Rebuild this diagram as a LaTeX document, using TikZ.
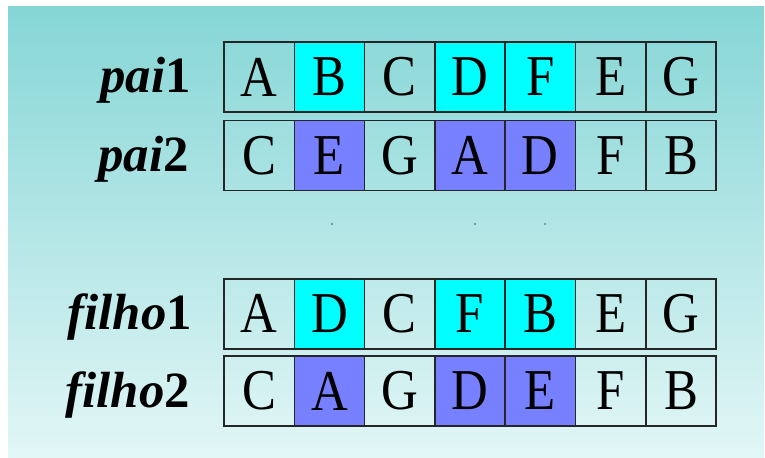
\documentclass[tikz,border=0pt]{standalone}
\usepackage{fontspec}
\setmainfont{Liberation Serif}
\newfontfamily\cellfont[FakeStretch=0.88]{Liberation Serif}
\definecolor{bgtop}{RGB}{134,214,214}
\definecolor{bgbottom}{RGB}{226,246,246}
\definecolor{cutcyan}{RGB}{0,255,255}
\definecolor{cutblue}{RGB}{119,128,255}
\begin{document}
\begin{tikzpicture}[x=1bp,y=-1bp,
    cell/.style={draw=black!85,line width=1.6bp,minimum width=70.3bp,
      minimum height=70bp,inner sep=0pt,outer sep=0pt,
      font=\cellfont\fontsize{58}{58}\selectfont},
    cyancell/.style={cell,fill=cutcyan},
    bluecell/.style={cell,fill=cutblue},
    rowname/.style={anchor=base east,inner sep=0pt,
      font=\fontsize{51}{51}\selectfont\bfseries}]
  \useasboundingbox (0,0) rectangle (765,458);
  \shade[top color=bgtop,bottom color=bgbottom] (8,7) rectangle (764,457);

  % parents
  \node[rowname] (pai1) at (191,93) {\textit{pai}1};
  \node[rowname] (pai2) at (189,171.5) {\textit{pai}2};
  \draw
    (259.15,77) node[cell] (p1a){A}
    (329.45,77) node[cyancell] (p1b){B}
    (399.75,77) node[cell] (p1c){C}
    (470.05,77) node[cyancell] (p1d){D}
    (540.35,77) node[cyancell] (p1e){F}
    (610.65,77) node[cell] (p1f){E}
    (680.95,77) node[cell] (p1g){G};
  \draw
    (259.15,155.5) node[cell] (p2a){C}
    (329.45,155.5) node[bluecell] (p2b){E}
    (399.75,155.5) node[cell] (p2c){G}
    (470.05,155.5) node[bluecell] (p2d){A}
    (540.35,155.5) node[bluecell] (p2e){D}
    (610.65,155.5) node[cell] (p2f){F}
    (680.95,155.5) node[cell] (p2g){B};

  % cut marks
  \fill[black!60] (332,224) circle (1bp) (475,224) circle (1bp) (545,224) circle (1bp);

  % children
  \node[rowname] (filho1) at (192,329.8) {\textit{filho}1};
  \node[rowname] (filho2) at (190,407) {\textit{filho}2};
  \draw
    (259.15,313.8) node[cell] (f1a){A}
    (329.45,313.8) node[cyancell] (f1b){D}
    (399.75,313.8) node[cell] (f1c){C}
    (470.05,313.8) node[cyancell] (f1d){F}
    (540.35,313.8) node[cyancell] (f1e){B}
    (610.65,313.8) node[cell] (f1f){E}
    (680.95,313.8) node[cell] (f1g){G};
  \draw
    (259.15,391) node[cell] (f2a){C}
    (329.45,391) node[bluecell] (f2b){A}
    (399.75,391) node[cell] (f2c){G}
    (470.05,391) node[bluecell] (f2d){D}
    (540.35,391) node[bluecell] (f2e){E}
    (610.65,391) node[cell] (f2f){F}
    (680.95,391) node[cell] (f2g){B};
\end{tikzpicture}
\end{document}
